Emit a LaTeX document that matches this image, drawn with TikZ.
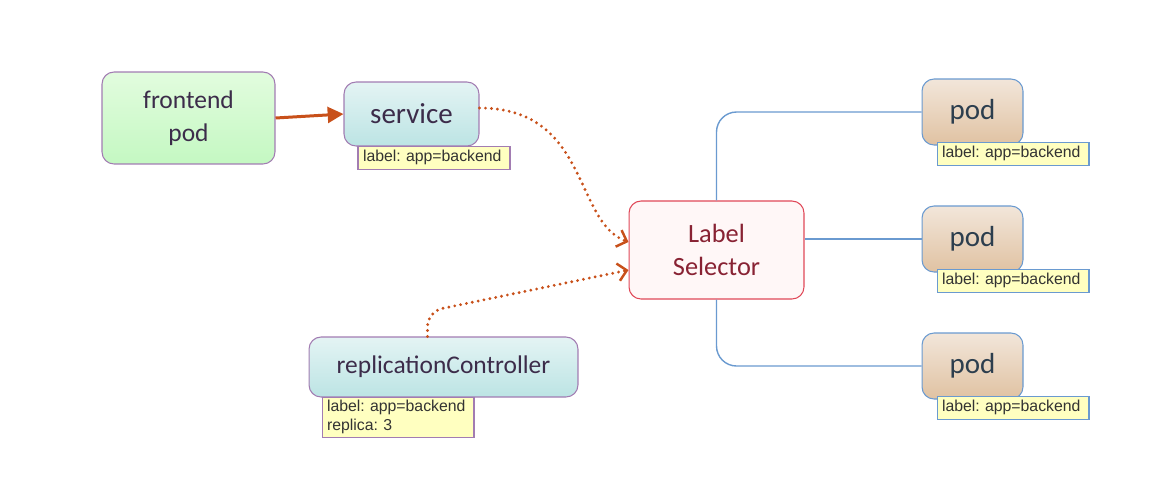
\documentclass[tikz,border=0pt]{standalone}
\usepackage{fontspec}
\setmainfont{Carlito}
\newfontfamily\tagfont{Liberation Sans}
\usetikzlibrary{arrows.meta, calc}
\tikzset{
    box/.style={draw, rounded corners=0.24cm, line width=0.6pt, inner sep=0pt, align=center,
        font=\fontsize{14.5}{18.5}\selectfont, text=textpurple},
    bluebox/.style={box, draw=violetline, top color=cyantop, bottom color=cyanbot},
    podbox/.style={box, draw=blueline, top color=tantop, bottom color=tanbot,
        minimum width=2.02cm, minimum height=1.32cm, font=\fontsize{16.5}{20}\selectfont, text=podtext},
    tagbox/.style={draw, fill=tagyellow, line width=0.6pt, anchor=north west, align=left,
        text width=2.84cm, inner xsep=0.1cm, inner ysep=0pt, minimum height=0.46cm,
        font=\tagfont\frenchspacing\fontsize{9}{11}\selectfont, text=black!80},
    push/.style={draw=orangeline, line width=1.7pt, -{Triangle[length=9pt, width=9pt]}},
    dotlink/.style={draw=orangeline, line width=1.8pt, line cap=round, dash pattern=on 0pt off 3.4pt,
        -{Straight Barb[length=5pt, width=10pt, line width=1.4pt]}},
    link/.style={draw=blueline, line width=0.8pt, rounded corners=0.4cm}
}

\begin{document}
\begin{tikzpicture}[x=0.02cm, y=-0.02cm]
\definecolor{textpurple}{HTML}{3C2C4A}
\definecolor{podtext}{HTML}{2C3E4E}
\definecolor{violetline}{HTML}{A27CB2}
\definecolor{greentop}{HTML}{E2FCDE}
\definecolor{greenbot}{HTML}{C4F8C2}
\definecolor{cyantop}{HTML}{E4F4F4}
\definecolor{cyanbot}{HTML}{BCE4E4}
\definecolor{tantop}{HTML}{F2E6DA}
\definecolor{tanbot}{HTML}{E0C2A2}
\definecolor{blueline}{HTML}{6A9AD0}
\definecolor{redline}{HTML}{E04858}
\definecolor{redtext}{HTML}{882233}
\definecolor{tagyellow}{HTML}{FFFFC0}
\definecolor{orangeline}{HTML}{C8501A}

\useasboundingbox (0,0) rectangle (1168,498);

\node[box, draw=violetline, top color=greentop, bottom color=greenbot,
    minimum width=3.46cm, minimum height=1.84cm] (frontend) at (188.5,118) {frontend\\pod};
\node[bluebox, minimum width=2.7cm, minimum height=1.28cm, font=\fontsize{16.5}{20}\selectfont] (service) at (411.5,114) {service};
\node[box, draw=redline, fill=red!3, text=redtext, minimum width=3.5cm, minimum height=1.96cm,
    font=\fontsize{15}{19}\selectfont] (selector) at (716.5,250) {Label\\Selector};
\node[bluebox, minimum width=5.38cm, minimum height=1.2cm] (rc) at (443.5,367) {replicationController};

\node[podbox] (pod1) at (972.5,112) {pod};
\node[podbox] (pod2) at (972.5,239) {pod};
\node[podbox] (pod3) at (972.5,366) {pod};

\draw[push] (frontend.east) -- (service.west);
\draw[dotlink] ($(service.east)+(0,-6)$) .. controls +(110,0) and +(-55,-20) .. ($(selector.west)+(0,-8)$);
\draw[dotlink, rounded corners=0.3cm] ($(rc.north)+(-16,0)$) -- ++(0,-25) -- ($(selector.west)+(0,20)$);

\draw[link] (selector.north) |- (pod1.west);
\draw[link] (selector.east |- pod2.west) -- (pod2.west);
\draw[link] (selector.south) |- (pod3.west);

\node[tagbox, draw=violetline] (servicetag) at ($(service.south west)+(14,-1)$) {label: app=backend};
\node[tagbox, draw=violetline, minimum height=0.8cm, font=\tagfont\frenchspacing\fontsize{9}{10.8}\selectfont] (rctag) at ($(rc.south west)+(13,-1)$) {label: app=backend\\replica: 3};
\node[tagbox, draw=blueline] (podtag1) at ($(pod1.south west)+(15,-4)$) {label: app=backend};
\node[tagbox, draw=blueline] (podtag2) at ($(pod2.south west)+(15,-4)$) {label: app=backend};
\node[tagbox, draw=blueline] (podtag3) at ($(pod3.south west)+(15,-4)$) {label: app=backend};
\end{tikzpicture}
\end{document}
